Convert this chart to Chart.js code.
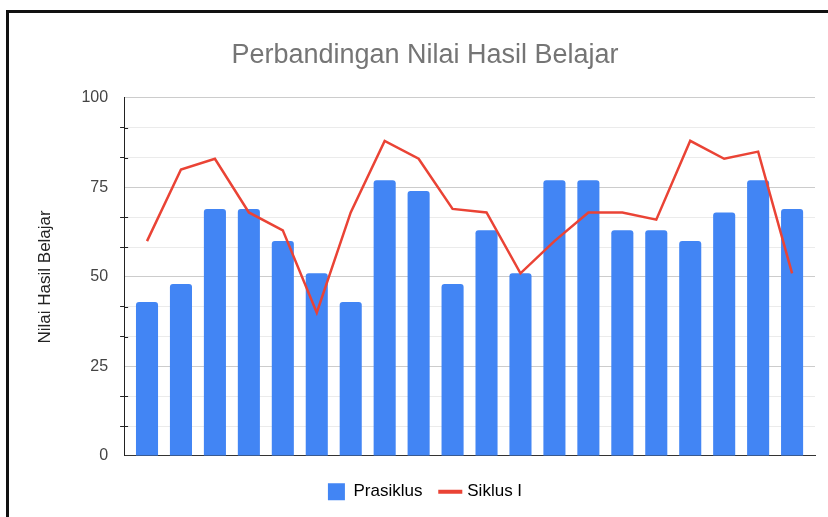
<!DOCTYPE html>
<html>
<head>
<meta charset="utf-8">
<script src="https://cdn.jsdelivr.net/npm/chart.js@4.4.1/dist/chart.umd.min.js"></script>
<style>
    body { margin: 0; background: #fff; }
    #wrap { position: relative; width: 828px; height: 517px; overflow: hidden; }
    #frame { position: absolute; left: 6px; top: 10px; width: 900px; height: 600px;
             border-left: 3px solid #111; border-top: 3px solid #111; pointer-events: none; }
</style>
</head>
<body>
<div id="wrap">
    <canvas id="chart" width="828" height="517"></canvas>
    <div id="frame"></div>
</div>
<script>
// data
const siswa = [1, 2, 3, 4, 5, 6, 7, 8, 9, 10, 11, 12, 13, 14, 15, 16, 17, 18, 19, 20];
const prasiklus = [43, 48, 69, 69, 60, 51, 43, 77, 74, 48, 63, 51, 77, 77, 63, 63, 60, 68, 77, 69];
const siklusI = [60, 80, 83, 68, 63, 40, 68, 88, 83, 69, 68, 51, 60, 68, 68, 66, 88, 83, 85, 51];
const yTicks = [0, 25, 50, 75, 100];

const FONT = "'Liberation Sans', Arial, sans-serif";

function toPoints(values) {
    return values.map(function(v, i) { return { x: siswa[i], y: v }; });
}

// small tick marks on the inner side of the y axis (minor steps only)
const innerTicks = {
    id: 'innerTicks',
    afterDraw: function(chart) {
        var y = chart.scales.y;
        var c = chart.ctx;
        c.save();
        c.strokeStyle = '#222';
        c.lineWidth = 1;
        y.ticks.forEach(function(t, i) {
            if (i % 3 === 0) return;
            var py = Math.round(y.getPixelForValue(t.value)) + 0.5;
            c.beginPath();
            c.moveTo(y.right, py);
            c.lineTo(y.right + 4, py);
            c.stroke();
        });
        c.restore();
    }
};

var ctx = document.getElementById('chart');
var myChart = new Chart(ctx, {
    plugins: [innerTicks],
    data: {
        datasets: [{
            type: 'line',
            label: 'Siklus I',
            data: toPoints(siklusI),
            borderColor: '#EA4335',
            backgroundColor: '#EA4335',
            borderWidth: 2.5,
            pointRadius: 0,
            tension: 0,
            order: 0
        }, {
            type: 'bar',
            label: 'Prasiklus',
            data: toPoints(prasiklus),
            backgroundColor: '#4285F4',
            borderRadius: { topLeft: 3, topRight: 3 },
            borderSkipped: 'start',
            barPercentage: 0.65,
            categoryPercentage: 1,
            order: 1
        }]
    },
    options: {
        responsive: false,
        animation: false,
        layout: { padding: { left: 35, right: 13, top: 0, bottom: 6.7 } },
        plugins: {
            title: {
                display: true,
                text: 'Perbandingan Nilai Hasil Belajar',
                color: '#757575',
                font: { family: FONT, size: 27, weight: 'normal' },
                padding: { top: 39, bottom: 26.5 }
            },
            legend: {
                position: 'bottom',
                labels: {
                    usePointStyle: true,
                    boxHeight: 17,
                    boxWidth: 17,
                    padding: 19.4,
                    color: '#333',
                    font: { family: FONT, size: 17 },
                    generateLabels: function(chart) {
                        return [{
                            text: 'Prasiklus', fillStyle: '#4285F4', strokeStyle: '#4285F4',
                            lineWidth: 0, pointStyle: 'rect', datasetIndex: 1
                        }, {
                            text: 'Siklus I', fillStyle: '#EA4335', strokeStyle: '#EA4335',
                            lineWidth: 4, pointStyle: 'line', datasetIndex: 0
                        }];
                    }
                }
            },
            tooltip: { enabled: false }
        },
        scales: {
            x: {
                type: 'linear',
                min: 0.325,
                max: 20.675,
                offset: false,
                grid: { display: false },
                ticks: { display: false },
                border: { color: '#333', width: 1 }
            },
            y: {
                min: 0,
                max: 100,
                afterBuildTicks: function(axis) {
                    // major ticks every 25, minor lines at thirds
                    var t = [];
                    for (let i = 0; i <= 12; i++) t.push({ value: i * 25 / 3 });
                    axis.ticks = t;
                },
                ticks: {
                    padding: 12,
                    color: '#444',
                    font: { family: FONT, size: 16 },
                    callback: function(value, index) {
                        return index % 3 === 0 ? String(yTicks[index / 3]) : '';
                    }
                },
                grid: {
                    tickLength: 4,
                    color: function(c) { return c.index % 3 === 0 ? '#cccccc' : '#ebebeb'; },
                    tickColor: function(c) { return c.index % 3 === 0 ? 'rgba(0,0,0,0)' : '#222'; }
                },
                border: { color: '#222', width: 1 },
                title: {
                    display: true,
                    text: 'Nilai Hasil Belajar',
                    color: '#222',
                    font: { family: FONT, size: 17 },
                    padding: { top: 0, bottom: 14 }
                }
            }
        }
    }
});
</script>
</body>
</html>
